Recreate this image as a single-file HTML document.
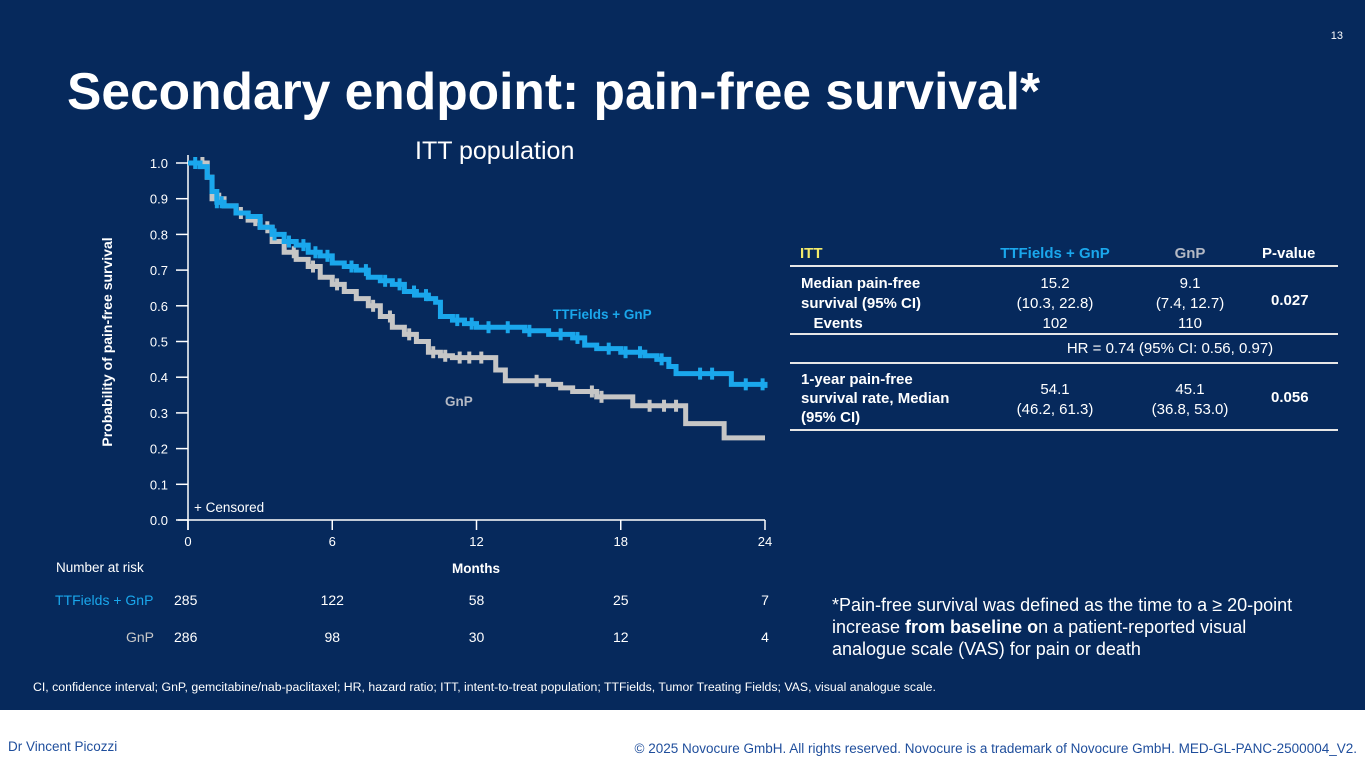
<!DOCTYPE html>
<html><head><meta charset="utf-8"><style>
*{margin:0;padding:0;box-sizing:border-box}
body{width:1365px;height:768px;overflow:hidden;background:#fff;font-family:"Liberation Sans",Arial,sans-serif;position:relative}
#slide{position:absolute;left:0;top:0;width:1365px;height:710px;background:#06295c}
.a{position:absolute;white-space:nowrap}
.w{color:#fff}
.tc{text-align:center}
.hr{position:absolute;left:790px;width:548px;height:2px;background:#e6e6e6}
</style></head><body>
<div id="slide">
<div class="a w" style="right:22px;top:30px;font-size:11px">13</div>
<div class="a w" style="left:67px;top:61px;font-size:51.5px;font-weight:bold">Secondary endpoint: pain-free survival*</div>
<div class="a w" style="left:415px;top:137px;font-size:25px">ITT population</div>
<svg id="chart" class="a" style="left:0;top:0" width="800" height="710"></svg>
<div class="a" style="left:56px;top:560px;font-size:13.5px;color:#fff">Number at risk</div>
<div class="a" style="left:55px;top:592px;font-size:14px;color:#1aa7ec">TTFields + GnP</div>
<div class="a" style="left:126px;top:629px;font-size:14px;color:#c8c8c8">GnP</div>
<div class="hr" style="top:265px"></div>
<div class="hr" style="top:333px"></div>
<div class="hr" style="top:362px"></div>
<div class="hr" style="top:429px"></div>
<div style="font-size:15px">
<div class="a" style="left:800px;top:245px;color:#f3ea6a;font-weight:bold">ITT</div>
<div class="a tc" style="left:970px;width:170px;top:245px;color:#1aa7ec;font-weight:bold">TTFields + GnP</div>
<div class="a tc" style="left:1150px;width:80px;top:245px;color:#b4b9c4;font-weight:bold">GnP</div>
<div class="a w" style="left:1262px;top:245px;font-weight:bold">P-value</div>
<div class="a w" style="left:801px;top:274px;font-weight:bold;line-height:20px">Median pain-free<br>survival (95% CI)<br>&nbsp;&nbsp;&nbsp;Events</div>
<div class="a w tc" style="left:970px;width:170px;top:274px;line-height:20px">15.2<br>(10.3, 22.8)<br>102</div>
<div class="a w tc" style="left:1140px;width:100px;top:274px;line-height:20px">9.1<br>(7.4, 12.7)<br>110</div>
<div class="a w" style="left:1271px;top:292px;font-weight:bold">0.027</div>
<div class="a w tc" style="left:1010px;width:320px;top:340px">HR = 0.74 (95% CI: 0.56, 0.97)</div>
<div class="a w" style="left:801px;top:370px;font-weight:bold;line-height:19px">1-year pain-free<br>survival rate, Median<br>(95% CI)</div>
<div class="a w tc" style="left:970px;width:170px;top:380px;line-height:20px">54.1<br>(46.2, 61.3)</div>
<div class="a w tc" style="left:1130px;width:120px;top:380px;line-height:20px">45.1<br>(36.8, 53.0)</div>
<div class="a w" style="left:1271px;top:389px;font-weight:bold">0.056</div>
</div>
<div class="a w" style="left:832px;top:594px;font-size:18px;line-height:22px">*Pain-free survival was defined as the time to a ≥ 20-point<br>increase <b>from baseline o</b>n a patient-reported visual<br>analogue scale (VAS) for pain or death</div>
<div class="a w" style="left:33px;top:680px;font-size:12.3px">CI, confidence interval; GnP, gemcitabine/nab-paclitaxel; HR, hazard ratio; ITT, intent-to-treat population; TTFields, Tumor Treating Fields; VAS, visual analogue scale.</div>
</div>
<div class="a" style="left:8px;top:739px;font-size:13.5px;color:#1f4e9c">Dr Vincent Picozzi</div>
<div class="a" style="right:8px;top:741px;font-size:13.5px;color:#1f4e9c">© 2025 Novocure GmbH. All rights reserved. Novocure is a trademark of Novocure GmbH. MED-GL-PANC-2500004_V2.</div>
<script>
const xTicks=[0,6,12,18,24];
const yTicks=[0,0.1,0.2,0.3,0.4,0.5,0.6,0.7,0.8,0.9,1.0];
const ttTimes=[0,0.5,0.8,1.0,1.2,1.5,2,2.5,3,3.5,4,4.5,5,5.5,6,6.5,7,7.5,8,8.5,9,9.5,10,10.3,10.5,11,11.5,12,13,14,15,16,16.5,17,18,19,19.5,20,20.3,22.6,24];
const ttSurv=[1.0,0.99,0.96,0.92,0.89,0.88,0.86,0.85,0.82,0.80,0.78,0.77,0.75,0.74,0.72,0.71,0.70,0.68,0.67,0.66,0.64,0.63,0.62,0.61,0.57,0.56,0.55,0.54,0.54,0.53,0.52,0.51,0.49,0.48,0.47,0.46,0.45,0.43,0.41,0.38,0.37];
const gTimes=[0,0.8,1.0,1.5,2,2.5,3,3.5,4,4.5,5,5.5,6,6.5,7,7.5,8,8.5,9,9.5,10,10.5,11,12.8,13.2,15,15.5,16,17,18.5,20.7,22.3,24];
const gSurv=[1.0,0.96,0.90,0.88,0.86,0.84,0.82,0.78,0.75,0.73,0.71,0.68,0.66,0.64,0.62,0.60,0.57,0.54,0.52,0.50,0.47,0.46,0.455,0.42,0.39,0.38,0.37,0.36,0.345,0.32,0.27,0.23,0.23];
const ttCens=[0.3,1.2,1.4,3.6,4.2,4.8,5.3,5.8,6.8,7.4,8.2,8.8,9.4,9.9,11.2,11.8,12.5,13.3,14.2,15.5,16.2,17.5,18.2,18.8,19.7,21.3,21.8,23.2,23.9];
const gCens=[0.6,1.3,2.2,2.8,3.3,4.4,5.2,6.2,7.7,8.4,9.2,10.2,10.7,11.3,11.7,12.2,14.5,16.8,17.2,19.2,19.8,20.3];
const ttRisk=[285,122,58,25,7];
const gRisk=[286,98,30,12,4];
const NS='http://www.w3.org/2000/svg';
const svg=document.getElementById('chart');
const X=t=>188+t*(765-188)/24, Y=s=>520-s*357;
function el(tag,attrs,parent){const e=document.createElementNS(NS,tag);for(const k in attrs)e.setAttribute(k,attrs[k]);(parent||svg).appendChild(e);return e;}
function stepPath(T,S){let d='M'+X(T[0])+','+Y(S[0]);for(let i=1;i<T.length;i++){d+=' H'+X(T[i])+' V'+Y(S[i]);}return d;}
function survAt(T,S,t){let s=S[0];for(let i=0;i<T.length;i++){if(T[i]<=t)s=S[i];}return s;}
const axis=el('g',{});


el('line',{x1:178,y1:520,x2:765,y2:520,stroke:'#fff','stroke-width':1.5},axis);
el('line',{x1:188,y1:155,x2:188,y2:530,stroke:'#fff','stroke-width':1.5},axis);
yTicks.forEach(v=>{
 el('line',{x1:176,y1:Y(v),x2:188,y2:Y(v),stroke:'#fff','stroke-width':1.5},axis);
 const t=el('text',{x:168,y:Y(v)+5,fill:'#fff','font-size':13,'text-anchor':'end'},axis);
 
 
 t.textContent=v.toFixed(1);
});
xTicks.forEach((v,i)=>{
 el('line',{x1:X(v),y1:520,x2:X(v),y2:530,stroke:'#fff','stroke-width':1.5},axis);
 const t=el('text',{x:X(v),y:546,fill:'#fff','font-size':13,'text-anchor':'middle'},axis);
 
 
 t.textContent=v;
 const a=el('text',{x:X(v)+(i==0?-14:0),y:605,fill:'#fff','font-size':14,'text-anchor':i==0?'start':'middle'});
 
 
 a.textContent=ttRisk[i];
 const b=el('text',{x:X(v)+(i==0?-14:0),y:642,fill:'#fff','font-size':14,'text-anchor':i==0?'start':'middle'});
 
 
 b.textContent=gRisk[i];
});
const xt=el('text',{x:476,y:573,fill:'#fff','font-size':13.5,'font-weight':'bold','text-anchor':'middle'});


xt.textContent='Months';
const yt=el('text',{x:0,y:0,fill:'#fff','font-size':14,'font-weight':'bold','text-anchor':'middle',transform:'translate(112,342) rotate(-90)'});


yt.textContent='Probability of pain-free survival';
function series(T,S,C,col,name){
 const g=el('g',{});
 
 
 el('path',{d:stepPath(T,S),fill:'none',stroke:col,'stroke-width':5},g);
 C.forEach(t=>{const s=survAt(T,S,t);const m=el('line',{x1:X(t),y1:Y(s)-6,x2:X(t),y2:Y(s)+6,stroke:col,'stroke-width':4},g);});
}
series(gTimes,gSurv,gCens,'#c6c6c6','series-gnp');
series(ttTimes,ttSurv,ttCens,'#1aa7ec','series-ttfields');
const l1=el('text',{x:553,y:319,fill:'#1aa7ec','font-size':13.5,'font-weight':'bold'});


l1.textContent='TTFields + GnP';
const l2=el('text',{x:445,y:406,fill:'#b4b9c4','font-size':13.5,'font-weight':'bold'});


l2.textContent='GnP';
const cz=el('text',{x:194,y:512,fill:'#fff','font-size':13.5});


cz.textContent='+ Censored';
</script>
</body></html>
